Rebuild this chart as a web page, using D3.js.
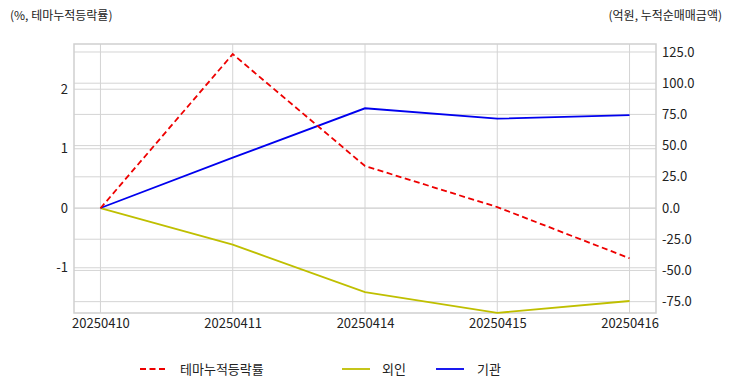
<!DOCTYPE html>
<html><head><meta charset="utf-8">
<script src="https://cdn.jsdelivr.net/npm/d3@7"></script>
<style>body{margin:0;background:#fff}svg{display:block}text{font-family:"Noto Sans CJK KR","Noto Sans",sans-serif;fill:#222}</style>
</head><body><svg id="c" width="732" height="392"></svg>
<script>
const dates = ["20250410","20250411","20250414","20250415","20250416"];
const themeRate = [0, 2.59, 0.71, 0.02, -0.84];
const foreign = [0, -29.4, -67.3, -84.0, -74.5];
const institution = [0, 40.3, 79.9, 71.6, 74.5];
const leftTicks = [-1, 0, 1, 2];
const rightTicks = [-75, -50, -25, 0, 25, 50, 75, 100, 125];
const leftTitle = "(%, 테마누적등락률)";
const rightTitle = "(억원, 누적순매매금액)";
const seriesNames = ["테마누적등락률", "외인", "기관"];

const svg = d3.select("#c");
const L = 74, R = 656, T = 44, B = 313;
const x = d3.scaleLinear().domain([-0.2, dates.length - 1 + 0.2]).range([L, R]);
const yL = d3.scaleLinear().domain([-1.76, 2.76]).range([B, T]);
const yR = d3.scaleLinear().domain([-84.1, 131.4]).range([B, T]);
const grid = "#d4d4d4";
const hy = f => v => f(v).replace("\u2212", "-");

// gridlines
const g = svg.append("g");
dates.forEach((d, i) => g.append("line").attr("x1", x(i)).attr("x2", x(i)).attr("y1", T).attr("y2", B).attr("stroke", grid).attr("stroke-width", 1));
leftTicks.forEach(v => g.append("line").attr("x1", L).attr("x2", R).attr("y1", yL(v)).attr("y2", yL(v)).attr("stroke", grid).attr("stroke-width", 1));
rightTicks.forEach(v => g.append("line").attr("x1", L).attr("x2", R).attr("y1", yR(v)).attr("y2", yR(v)).attr("stroke", grid).attr("stroke-width", 1));
svg.append("rect").attr("x", L).attr("y", T).attr("width", R - L).attr("height", B - T).attr("fill", "none").attr("stroke", "#cfcfcf").attr("stroke-width", 1.5);

// axes labels
const axL = d3.axisLeft(yL).tickValues(leftTicks).tickFormat(hy(d3.format("d"))).tickSize(0).tickPadding(6);
const axR = d3.axisRight(yR).tickValues(rightTicks).tickFormat(hy(d3.format(".1f"))).tickSize(0).tickPadding(6);
const axB = d3.axisBottom(x).tickValues(d3.range(dates.length)).tickFormat(i => dates[i]).tickSize(0).tickPadding(6);
[[axL, `translate(${L},0)`], [axR, `translate(${R},0)`], [axB, `translate(0,${B})`]].forEach(([a, t]) => {
  const gg = svg.append("g").attr("transform", t).call(a);
  gg.select(".domain").remove();
  gg.selectAll("text").attr("font-size", 13).style("fill", "#222").style("font-family", '"Noto Sans CJK KR","Noto Sans",sans-serif');
});

// lines
const lineL = d3.line().x((d, i) => x(i)).y(d => yL(d));
const lineR = d3.line().x((d, i) => x(i)).y(d => yR(d));
svg.append("path").attr("d", lineR(foreign)).attr("fill", "none").attr("stroke", "#bfbf00").attr("stroke-width", 1.8);
svg.append("path").attr("d", lineR(institution)).attr("fill", "none").attr("stroke", "#0000ee").attr("stroke-width", 1.8);
svg.append("path").attr("d", lineL(themeRate)).attr("fill", "none").attr("stroke", "#ee0000").attr("stroke-width", 1.8).attr("stroke-dasharray", "6,3.5");

// titles
svg.append("text").attr("x", 10).attr("y", 20).attr("font-size", 12).text(leftTitle);
svg.append("text").attr("x", 722).attr("y", 20).attr("text-anchor", "end").attr("font-size", 12).text(rightTitle);

// legend
const legend = [
  {name: seriesNames[0], color: "#ee0000", dash: "6,3.5", x1: 140, tx: 180},
  {name: seriesNames[1], color: "#bfbf00", dash: null, x1: 342, tx: 382},
  {name: seriesNames[2], color: "#0000ee", dash: null, x1: 436, tx: 477}
];
legend.forEach(l => {
  svg.append("line").attr("x1", l.x1).attr("x2", l.x1 + 28).attr("y1", 369).attr("y2", 369)
    .attr("stroke", l.color).attr("stroke-width", 1.8).attr("stroke-dasharray", l.dash);
  svg.append("text").attr("x", l.tx).attr("y", 374).attr("font-size", 13).text(l.name);
});
</script></body></html>
